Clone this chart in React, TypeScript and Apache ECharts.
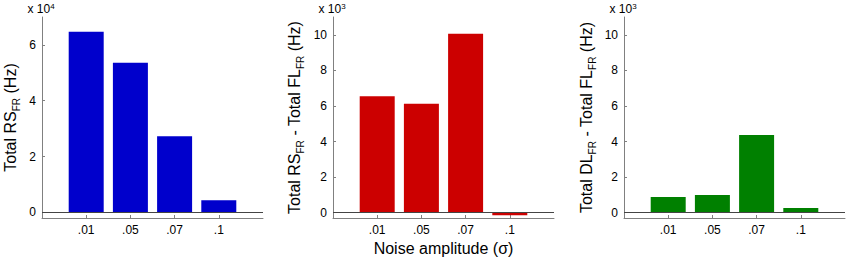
import React, { useEffect, useRef } from "react";
import * as echarts from "echarts";

const noiseLabels = [".01", ".05", ".07", ".1"];
const noisePositions = [1, 2, 3, 4];
const rsFR = [64700, 53600, 27300, 4400];
const rsMinusFl = [6540, 6130, 10060, -150];
const dlMinusFl = [880, 990, 4360, 260];
const ticks1 = [0, 20000, 40000, 60000];
const ticks23 = [0, 2000, 4000, 6000, 8000, 10000];

const FONT = "'Liberation Sans', Arial, Helvetica, sans-serif";

export default function App() {
  const ref = useRef<HTMLDivElement>(null);
  useEffect(() => {
    if (!ref.current) return;
    const chart = echarts.init(ref.current, null, { renderer: "svg" });

    const gridLefts = [42, 333, 624];
    const colors = ["#0000CC", "#CC0000", "#008000"];
    const datas = [rsFR, rsMinusFl, dlMinusFl];
    const mins = [-2000, -300, -300];
    const maxs = [70000, 11000, 11000];
    const tickSets = [ticks1, ticks23, ticks23];
    const divs = [10000, 1000, 1000];
    const exps = ["4", "3", "3"];
    const nameGaps = [20.5, 27.5, 26.5];
    const yNames = [
      "{m|Total RS}{s|FR}{m| (Hz)}",
      "{m|Total RS}{s|FR}{m| - Total FL}{s|FR}{m| (Hz)}",
      "{m|Total DL}{s|FR}{m| - Total FL}{s|FR}{m| (Hz)}",
    ];
    const rich = {
      m: { fontSize: 16, fontFamily: FONT, color: "#000", lineHeight: 22, verticalAlign: "middle" },
      s: { fontSize: 10, fontFamily: FONT, color: "#000", lineHeight: 8, verticalAlign: "bottom" },
    };
    const axisLineStyle = { color: "#808080", width: 1 };

    const grids = gridLefts.map((l) => ({
      left: l,
      top: 17,
      width: 221,
      height: 201,
      containLabel: false,
      outerBoundsMode: "none",
    }));
    const xAxes = gridLefts.map((_, i) => ({
      type: "value",
      gridIndex: i,
      min: 0,
      max: 5,
      position: "bottom",
      axisLine: { show: true, onZero: false, lineStyle: axisLineStyle },
      axisTick: { show: true, inside: true, length: 3, customValues: noisePositions, lineStyle: axisLineStyle },
      axisLabel: {
        show: true,
        customValues: noisePositions,
        formatter: (v: number) => noiseLabels[Math.round(v) - 1] ?? "",
        fontSize: 12,
        fontFamily: FONT,
        color: "#000",
        margin: 6,
      },
      splitLine: { show: false },
      name: i === 1 ? "Noise amplitude (σ)" : "",
      nameLocation: "middle",
      nameGap: 22.5,
      nameTextStyle: { fontSize: 16, fontFamily: FONT, color: "#000" },
    }));
    const yAxes = gridLefts.map((_, i) => ({
      type: "value",
      gridIndex: i,
      min: mins[i],
      max: maxs[i],
      axisLine: { show: true, onZero: false, lineStyle: axisLineStyle },
      axisTick: { show: true, inside: true, length: 3, customValues: tickSets[i], lineStyle: axisLineStyle },
      axisLabel: {
        show: true,
        customValues: tickSets[i],
        formatter: (v: number) => String(Math.round(v / divs[i])),
        fontSize: 12,
        fontFamily: FONT,
        color: "#000",
        margin: 6,
      },
      splitLine: { show: false },
      name: yNames[i],
      nameLocation: "middle",
      nameRotate: 90,
      nameGap: nameGaps[i],
      nameTextStyle: { rich },
    }));
    const series = gridLefts.map((_, i) => ({
      type: "bar",
      xAxisIndex: i,
      yAxisIndex: i,
      barWidth: 35,
      data: datas[i].map((v, j) => [noisePositions[j], v]),
      itemStyle: { color: colors[i] },
      markLine: {
        silent: true,
        symbol: ["none", "none"],
        label: { show: false },
        lineStyle: { color: "#444", width: 1, type: "solid" },
        data: [{ yAxis: 0 }],
      },
    }));
    const graphic = gridLefts.map((l, i) => ({
      type: "text",
      left: l - 14.5,
      top: 2,
      style: {
        text: `{m|x 10}{p|${exps[i]}}`,
        rich: {
          m: { fontSize: 12, fontFamily: FONT, fill: "#000", lineHeight: 14, verticalAlign: "middle" },
          p: { fontSize: 8, fontFamily: FONT, fill: "#000", lineHeight: 7, verticalAlign: "top" },
        },
      },
    }));

    chart.setOption({
      animation: false,
      backgroundColor: "#fff",
      grid: grids,
      xAxis: xAxes,
      yAxis: yAxes,
      series,
      graphic,
    } as any);
    return () => chart.dispose();
  }, []);
  return <div ref={ref} style={{ width: 850, height: 257, position: "absolute", left: 0, top: 0 }} />;
}
